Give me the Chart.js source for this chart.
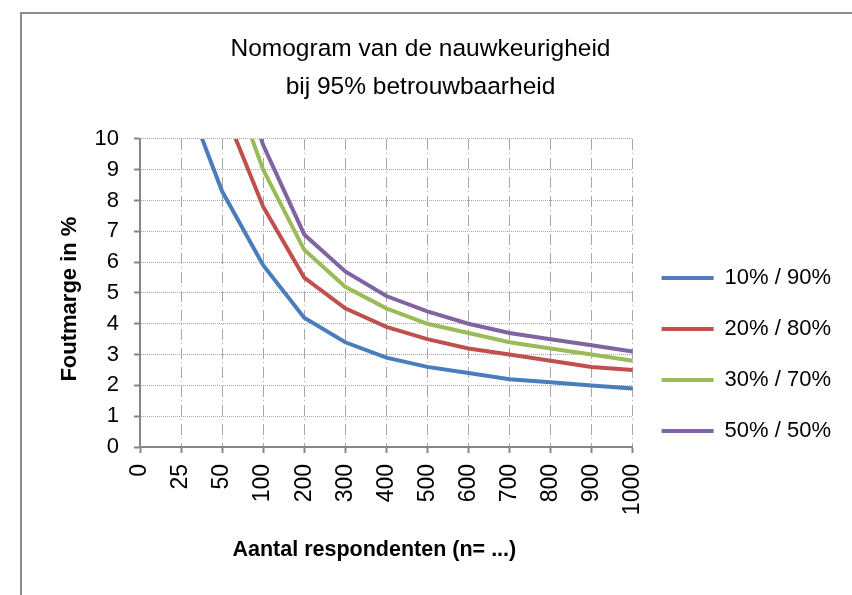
<!DOCTYPE html>
<html>
<head>
<meta charset="utf-8">
<script src="https://cdn.jsdelivr.net/npm/chart.js@4"></script>
<style>
  html, body { margin: 0; padding: 0; background: #fff; }
  #wrap { position: relative; width: 852px; height: 595px; overflow: hidden; }
  #frame { position: absolute; left: 20px; top: 12px; width: 900px; height: 700px; border: 2px solid #8c8c8c; box-sizing: border-box; }
  #wrap canvas { position: absolute; left: 0; top: 0; }
</style>
</head>
<body>
<div id="wrap">
  <div id="frame"></div>
  <canvas id="nomogram" width="852" height="595"></canvas>
</div>
<script>
// aantal respondenten (categorie-as)
const categories = ['0', '25', '50', '100', '200', '300', '400', '500', '600', '700', '800', '900', '1000'];

// foutmarge in % per verdeling
const s10_90 = [null, 11.8, 8.3, 5.9, 4.2, 3.4, 2.9, 2.6, 2.4, 2.2, 2.1, 2.0, 1.9];
const s20_80 = [null, 15.7, 11.1, 7.8, 5.5, 4.5, 3.9, 3.5, 3.2, 3.0, 2.8, 2.6, 2.5];
const s30_70 = [null, 18.0, 12.7, 9.0, 6.4, 5.2, 4.5, 4.0, 3.7, 3.4, 3.2, 3.0, 2.8];
const s50_50 = [null, 19.6, 13.9, 9.8, 6.9, 5.7, 4.9, 4.4, 4.0, 3.7, 3.5, 3.3, 3.1];

const seriesNames = ['10% / 90%', '20% / 80%', '30% / 70%', '50% / 50%'];
const seriesColors = ['#4a7ebb', '#c0504d', '#9bbb59', '#8064a2'];
const yTicks = [0, 1, 2, 3, 4, 5, 6, 7, 8, 9, 10];

const FONT = "'Liberation Sans', Arial, sans-serif";
const AXIS = '#868686';

function makeDataset(i, values) {
    return {
        label: seriesNames[i],
        data: values,
        borderColor: seriesColors[i],
        backgroundColor: seriesColors[i],
        borderWidth: 4,
        borderCapStyle: 'round',
        pointRadius: 0,
        pointStyle: 'line',
        tension: 0,
        spanGaps: false,
        clip: 0
    };
}

new Chart(document.getElementById('nomogram'), {
    type: 'line',
    data: {
        labels: categories,
        datasets: [
            makeDataset(0, s10_90),
            makeDataset(1, s20_80),
            makeDataset(2, s30_70),
            makeDataset(3, s50_50)
        ]
    },
    options: {
        responsive: false,
        animation: false,
        layout: { padding: { left: 0, right: 11, top: 0, bottom: 0 } },
        plugins: {
            title: {
                display: true,
                text: ['Nomogram van de nauwkeurigheid', 'bij 95% betrouwbaarheid'],
                color: '#000',
                font: { family: FONT, size: 24.5, weight: 'normal', lineHeight: 1.55 },
                padding: { top: 30, bottom: 33 }
            },
            legend: {
                position: 'right',
                align: 'start',
                // lege titel schuift de legenda omlaag
                title: {
                    display: true,
                    text: ' ',
                    font: { size: 10, lineHeight: 1 },
                    padding: { top: 228, bottom: 0 }
                },
                labels: {
                    usePointStyle: true,
                    pointStyleWidth: 52,
                    color: '#000',
                    font: { family: FONT, size: 22 },
                    padding: 29
                }
            },
            tooltip: { enabled: false }
        },
        scales: {
            x: {
                offset: false,
                afterFit: s => { s.height = 148; },
                grid: {
                    color: '#a6a6a6',
                    lineWidth: 1,
                    tickColor: AXIS,
                    tickLength: 6,
                    tickWidth: 2
                },
                border: { color: AXIS, width: 2, dash: [11, 3, 1, 4] },
                ticks: {
                    color: '#000',
                    font: { family: FONT, size: 23 },
                    minRotation: 90,
                    maxRotation: 90,
                    autoSkip: false,
                    padding: 11
                },
                title: {
                    display: true,
                    text: 'Aantal respondenten (n= ...)    ',
                    color: '#000',
                    font: { family: FONT, size: 21.5, weight: 'bold', lineHeight: 1.2 },
                    padding: { top: 0, bottom: 32 }
                }
            },
            y: {
                min: 0,
                max: 10,
                afterFit: s => { s.width = 140; },
                afterBuildTicks: s => { s.ticks = yTicks.map(v => ({ value: v })); },
                grid: {
                    color: '#a6a6a6',
                    lineWidth: 1,
                    tickColor: AXIS,
                    tickLength: 6,
                    tickWidth: 2
                },
                border: { color: AXIS, width: 2, dash: [1, 1] },
                ticks: {
                    color: '#000',
                    font: { family: FONT, size: 22 },
                    padding: 15
                },
                title: {
                    display: true,
                    text: 'Foutmarge in %  ',
                    color: '#000',
                    font: { family: FONT, size: 22, weight: 'bold', lineHeight: 1.2 },
                    padding: { top: 57, bottom: 0 }
                }
            }
        }
    }
});
</script>
</body>
</html>
